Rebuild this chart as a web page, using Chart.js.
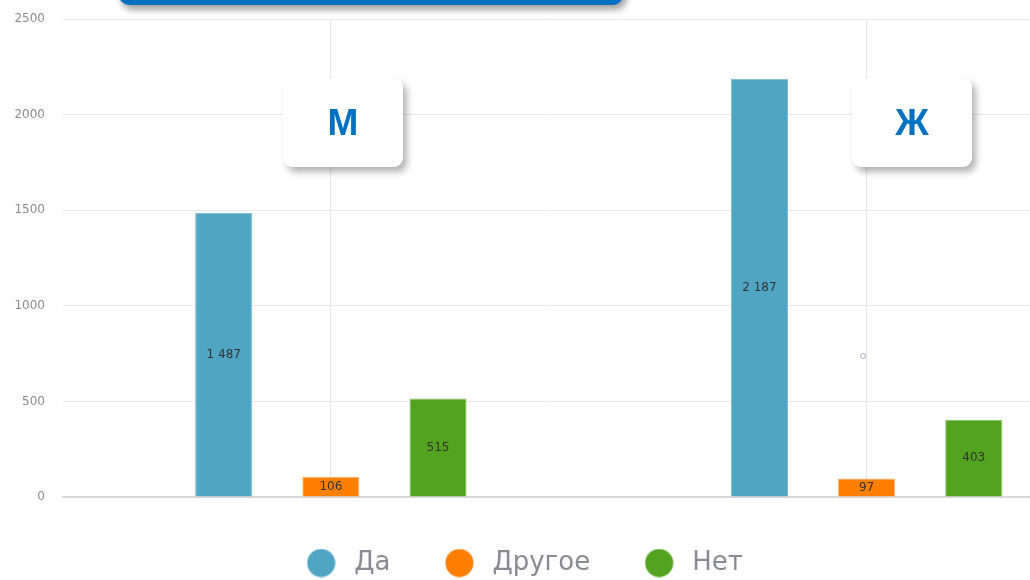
<!DOCTYPE html>
<html lang="ru">
<head>
<meta charset="utf-8">
<title>Да / Другое / Нет — М и Ж</title>
<script src="https://cdn.jsdelivr.net/npm/chart.js@4.4.1/dist/chart.umd.min.js"></script>
<style>
  html, body { margin: 0; padding: 0; background: #fff; }
  #wrap { position: relative; width: 1030px; height: 580px; overflow: hidden; }
  #chart { position: absolute; left: 0; top: 0; }
  .banner {
    position: absolute; left: 118px; top: -30px; width: 506px; height: 35px;
    background: #0070c0; border-radius: 12px;
    box-shadow: 3px 5px 6px rgba(0, 0, 0, 0.35);
  }
  .tag {
    position: absolute; top: 78px; width: 120px; height: 89px;
    background: #fff; border-radius: 9px;
    box-shadow: 4px 5px 7px rgba(0, 0, 0, 0.3);
    color: #0070c0; font: bold 37px "Liberation Sans", Arial, sans-serif;
    display: flex; align-items: center; justify-content: center;
  }
  .cursor {
    position: absolute; left: 860px; top: 353px; width: 4px; height: 4px;
    border: 1px solid #a9a9c8; border-radius: 50%;
  }
</style>
</head>
<body>
<div id="wrap">
  <canvas id="chart" width="1030" height="580"></canvas>
  <div class="banner"></div>
  <div class="tag" id="tag0" style="left:283px"></div>
  <div class="tag" id="tag1" style="left:852px"></div>
  <div class="cursor"></div>
</div>
<script>
// данные
const categories = ['М', 'Ж'];
const seriesNames = ['Да', 'Другое', 'Нет'];
const yesValues = [1487, 2187];
const otherValues = [106, 97];
const noValues = [515, 403];
const yTicks = [0, 500, 1000, 1500, 2000, 2500];

const colors = ['#50a4c4', '#ff8000', '#52a31f'];
const edges = ['#7fbcd6', '#ffb066', '#86c460'];

categories.forEach((c, i) => { document.getElementById('tag' + i).textContent = c; });

// кружки для легенды
function dot(color) {
  const c = document.createElement('canvas');
  c.width = 29; c.height = 29;
  const g = c.getContext('2d');
  g.fillStyle = color;
  g.beginPath();
  g.arc(14.5, 14.5, 14, 0, Math.PI * 2);
  g.fill();
  return c;
}
const dots = colors.map(dot);

const fmt = v => String(v).replace(/\B(?=(\d{3})+(?!\d))/g, ' ');

// подписи значений в центре столбиков
const barValueLabels = {
  id: 'barValueLabels',
  afterDatasetsDraw(chart) {
    const ctx = chart.ctx;
    ctx.save();
    ctx.font = '12px "DejaVu Sans"';
    ctx.fillStyle = '#333';
    ctx.textAlign = 'center';
    ctx.textBaseline = 'middle';
    chart.data.datasets.forEach((ds, di) => {
      chart.getDatasetMeta(di).data.forEach((bar, i) => {
        const { x, y, base } = bar.getProps(['x', 'y', 'base'], true);
        ctx.fillText(fmt(ds.data[i].y), x, (y + base) / 2);
      });
    });
    ctx.restore();
  }
};

const series = [yesValues, otherValues, noValues];

new Chart(document.getElementById('chart'), {
  type: 'bar',
  data: {
    datasets: series.map((vals, k) => ({
      label: seriesNames[k],
      data: vals.map((v, i) => ({ x: i, y: v })),
      backgroundColor: colors[k],
      borderColor: edges[k],
      borderWidth: 1,
      categoryPercentage: 0.6,
      barPercentage: 0.533
    }))
  },
  options: {
    responsive: false,
    animation: false,
    events: [],
    layout: { padding: { left: 14, top: 19, right: 0, bottom: 0 } },
    scales: {
      x: {
        type: 'linear',
        min: -0.5,
        max: 1.305,
        offset: false,
        afterBuildTicks(scale) { scale.ticks = categories.map((_, i) => ({ value: i })); },
        ticks: { display: false },
        grid: { offset: false, color: '#e6e6e6', drawTicks: true, tickLength: 4, tickColor: 'rgba(0,0,0,0)' },
        border: { display: true, color: '#d8d8d8', width: 2 }
      },
      y: {
        min: 0,
        max: 2500,
        afterBuildTicks(scale) { scale.ticks = yTicks.map(v => ({ value: v })); },
        // ширина оси: подписи + отступ 18px справа, без лишнего отступа сверху
        afterFit(scale) { scale.width = 49; scale.paddingTop = 6; },
        ticks: {
          color: '#8c8c8c',
          font: { family: 'DejaVu Sans', size: 12 },
          padding: 18,
          callback: v => String(v)
        },
        grid: { color: '#e8e8e8', drawTicks: false },
        border: { display: false }
      }
    },
    plugins: {
      tooltip: { enabled: false },
      legend: {
        position: 'bottom',
        maxHeight: 79,
        labels: {
          usePointStyle: true,
          pointStyleWidth: 40,
          boxHeight: 20,
          padding: 49,
          color: '#8a8a94',
          font: { family: 'DejaVu Sans', size: 26 },
          generateLabels(chart) {
            return Chart.defaults.plugins.legend.labels.generateLabels(chart)
              .map((item, i) => Object.assign(item, { pointStyle: dots[i] }));
          }
        }
      }
    }
  },
  plugins: [barValueLabels]
});
</script>
</body>
</html>
